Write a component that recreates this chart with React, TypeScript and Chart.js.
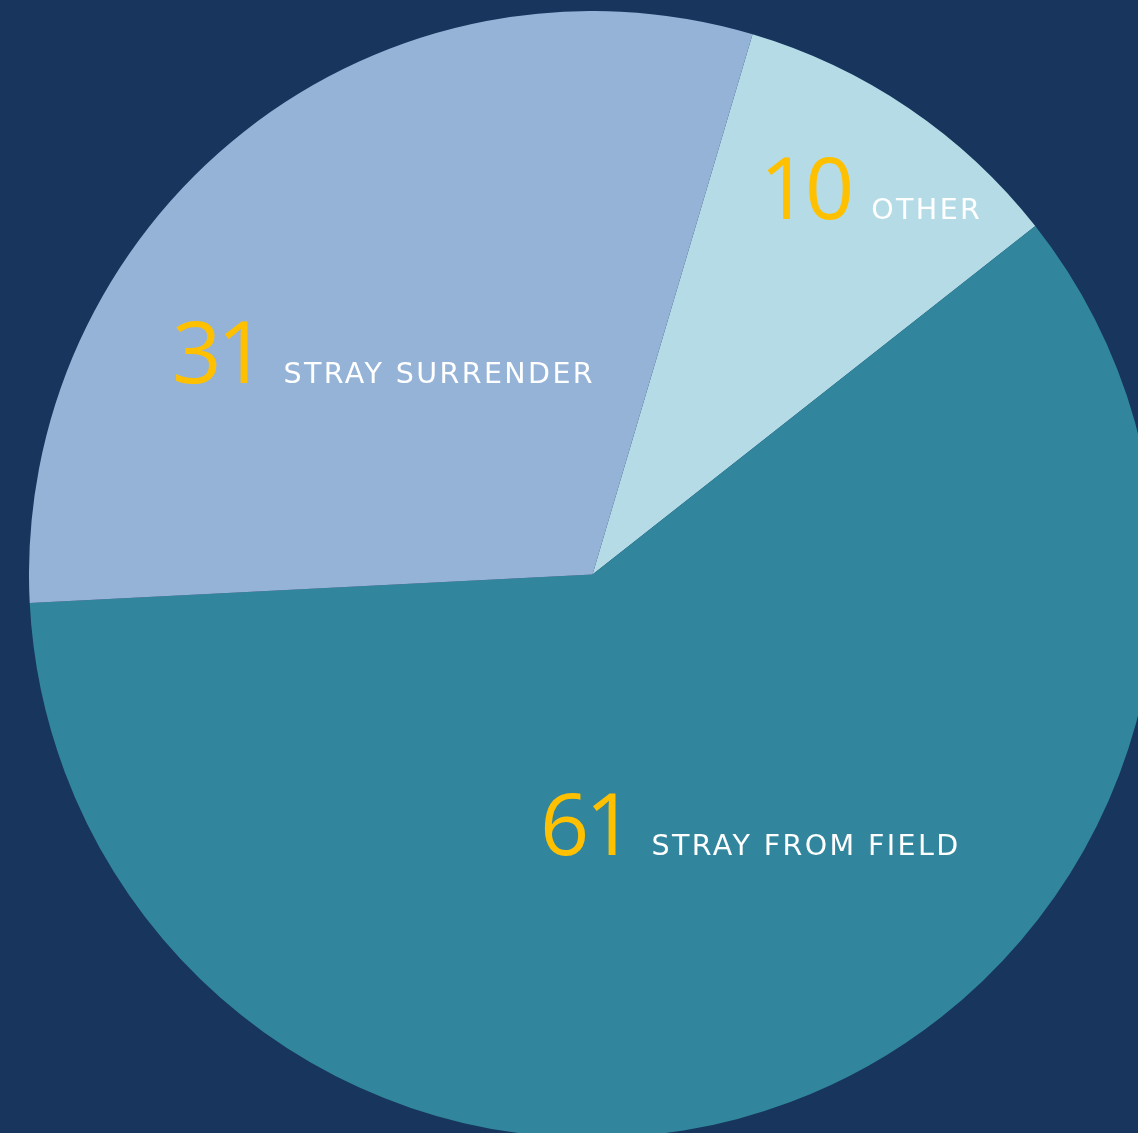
import React, { useEffect, useRef } from "react";
import { Chart, registerables } from "chart.js";

Chart.register(...registerables);

const categories = ["OTHER", "STRAY FROM FIELD", "STRAY SURRENDER"];
const values = [10, 61, 31];
const colors = ["#B5DCE6", "#31869D", "#95B3D7"];

// label anchors relative to pie centre, in units of radius (number left edge, baseline)
const labelAnchors = [
  { fx: 0.297, fy: -0.631 },
  { fx: -0.093, fy: 0.498 },
  { fx: -0.746, fy: -0.34 },
];

const BG = "#17355D";

const labelPlugin = {
  id: "sliceLabels",
  afterDatasetsDraw(chart: any) {
    const ctx = chart.ctx as CanvasRenderingContext2D;
    const meta = chart.getDatasetMeta(0);
    meta.data.forEach((arc: any, i: number) => {
      const r = arc.outerRadius;
      const a = labelAnchors[i];
      const x = arc.x + a.fx * r;
      const y = arc.y + a.fy * r;
      ctx.save();
      ctx.textBaseline = "alphabetic";
      ctx.textAlign = "left";
      ctx.fillStyle = "#FFC000";
      ctx.font = "400 86px 'Open Sans'";
      (ctx as any).letterSpacing = "-4px";
      const num = String(values[i]);
      ctx.fillText(num, x, y);
      const w = ctx.measureText(num).width;
      ctx.fillStyle = "#FFFFFF";
      ctx.font = "400 28.5px 'DejaVu Sans'";
      (ctx as any).letterSpacing = "2.4px";
      ctx.fillText(categories[i], x + w + 21, y);
      ctx.restore();
    });
  },
};

export default function App() {
  const ref = useRef<HTMLCanvasElement>(null);
  useEffect(() => {
    document.body.style.margin = "0";
    document.body.style.background = BG;
    const chart = new Chart(ref.current!, {
      type: "pie",
      data: {
        labels: categories,
        datasets: [
          {
            data: values,
            backgroundColor: colors,
            borderWidth: 0,
          },
        ],
      },
      options: {
        responsive: false,
        animation: false,
        rotation: 16.5,
        layout: { padding: 0 },
        plugins: {
          legend: { display: false },
          tooltip: { enabled: false },
        },
      },
      plugins: [labelPlugin],
    });
    return () => chart.destroy();
  }, []);
  return (
    <div
      style={{
        position: "fixed",
        left: 0,
        top: 0,
        width: 1138,
        height: 1133,
        overflow: "hidden",
        background: BG,
      }}
    >
      <canvas
        ref={ref}
        width={1127}
        height={1127}
        style={{ position: "absolute", left: 29, top: 11, width: 1127, height: 1127 }}
      />
    </div>
  );
}
